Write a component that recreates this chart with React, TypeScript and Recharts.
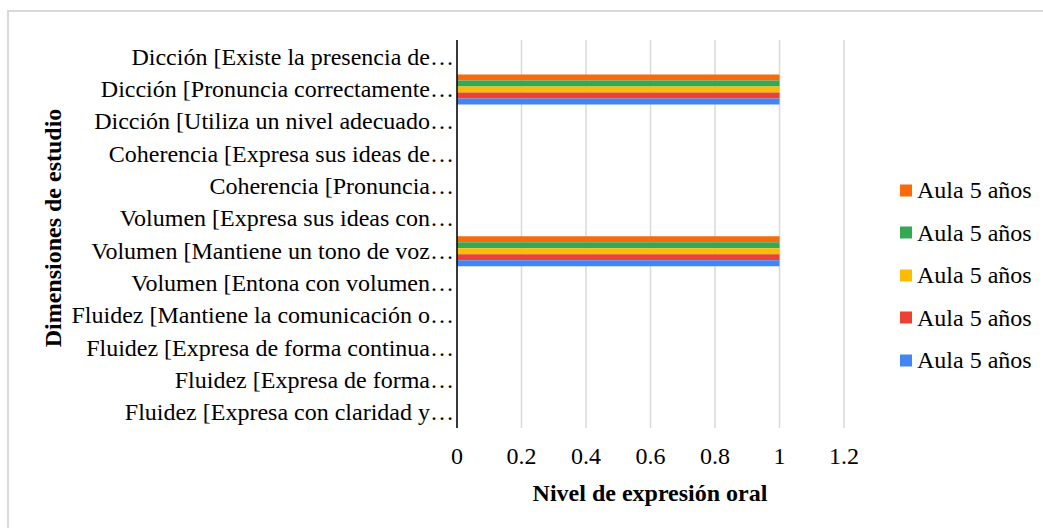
import { Bar, BarChart, CartesianGrid, XAxis, YAxis } from "recharts";

const categories = [
  "Dicción [Existe la presencia de…",
  "Dicción [Pronuncia correctamente…",
  "Dicción [Utiliza un nivel adecuado…",
  "Coherencia [Expresa sus ideas de…",
  "Coherencia [Pronuncia…",
  "Volumen [Expresa sus ideas con…",
  "Volumen [Mantiene un tono de voz…",
  "Volumen [Entona con volumen…",
  "Fluidez [Mantiene la comunicación o…",
  "Fluidez [Expresa de forma continua…",
  "Fluidez [Expresa de forma…",
  "Fluidez [Expresa con claridad y…",
];

// five series, all labelled "Aula 5 años" in the source
const serie1 = [0, 1, 0, 0, 0, 0, 1, 0, 0, 0, 0, 0];
const serie2 = [0, 1, 0, 0, 0, 0, 1, 0, 0, 0, 0, 0];
const serie3 = [0, 1, 0, 0, 0, 0, 1, 0, 0, 0, 0, 0];
const serie4 = [0, 1, 0, 0, 0, 0, 1, 0, 0, 0, 0, 0];
const serie5 = [0, 1, 0, 0, 0, 0, 1, 0, 0, 0, 0, 0];

const seriesNames = ["Aula 5 años", "Aula 5 años", "Aula 5 años", "Aula 5 años", "Aula 5 años"];
const xTicks = [0, 0.2, 0.4, 0.6, 0.8, 1, 1.2];

const colors = ["#FA6A0A", "#34A853", "#FBBC04", "#EA4335", "#4285F4"];
const font = "'Liberation Serif', 'Times New Roman', serif";

const data = categories.map((name, i) => ({
  name,
  s1: serie1[i],
  s2: serie2[i],
  s3: serie3[i],
  s4: serie4[i],
  s5: serie5[i],
}));

const keys = ["s1", "s2", "s3", "s4", "s5"];

export default function App() {
  return (
    <div
      style={{
        position: "absolute",
        left: 0,
        top: 0,
        width: 1043,
        height: 528,
        overflow: "hidden",
        background: "#fff",
        fontFamily: font,
      }}
    >
      <div
        style={{
          position: "absolute",
          left: 7,
          top: 10,
          width: 1040,
          height: 530,
          border: "2px solid #d9d9d9",
        }}
      />
      <BarChart
        width={1043}
        height={528}
        data={data}
        layout="vertical"
        margin={{ top: 40, right: 199, bottom: 40, left: 0 }}
        barCategoryGap="7%"
        barGap={0}
        style={{ position: "absolute", left: 0, top: 0 }}
      >
        <CartesianGrid horizontal={false} stroke="#d9d9d9" strokeWidth={1.5} />
        <XAxis
          type="number"
          domain={[0, 1.2]}
          ticks={xTicks}
          axisLine={false}
          tickLine={false}
          height={60}
          tickMargin={13}
          tick={{ fill: "#000", fontSize: 24, fontFamily: font }}
        />
        <YAxis
          type="category"
          dataKey="name"
          width={457}
          axisLine={{ stroke: "#000", strokeWidth: 1.5 }}
          tickLine={false}
          tickSize={0}
          tickMargin={3}
          interval={0}
          tick={{ fill: "#000", fontSize: 24, fontFamily: font }}
        />
        {keys.map((k, i) => (
          <Bar key={k} dataKey={k} name={seriesNames[i]} fill={colors[i]} isAnimationActive={false} />
        ))}
      </BarChart>
      <div
        style={{
          position: "absolute",
          left: 53,
          top: 228,
          transform: "translate(-50%, -50%) rotate(-90deg)",
          whiteSpace: "nowrap",
          fontWeight: "bold",
          fontSize: 24,
        }}
      >
        Dimensiones de estudio
      </div>
      <div
        style={{
          position: "absolute",
          left: 650,
          top: 493,
          transform: "translate(-50%, -50%)",
          whiteSpace: "nowrap",
          fontWeight: "bold",
          fontSize: 24,
        }}
      >
        Nivel de expresión oral
      </div>
      {seriesNames.map((n, i) => (
        <div
          key={i}
          style={{
            position: "absolute",
            left: 900,
            top: 190 + i * 42.5,
            transform: "translateY(-50%)",
            display: "flex",
            alignItems: "center",
            fontSize: 24,
            whiteSpace: "nowrap",
          }}
        >
          <span style={{ width: 12, height: 12, background: colors[i], marginRight: 5, display: "inline-block" }} />
          {n}
        </div>
      ))}
    </div>
  );
}
